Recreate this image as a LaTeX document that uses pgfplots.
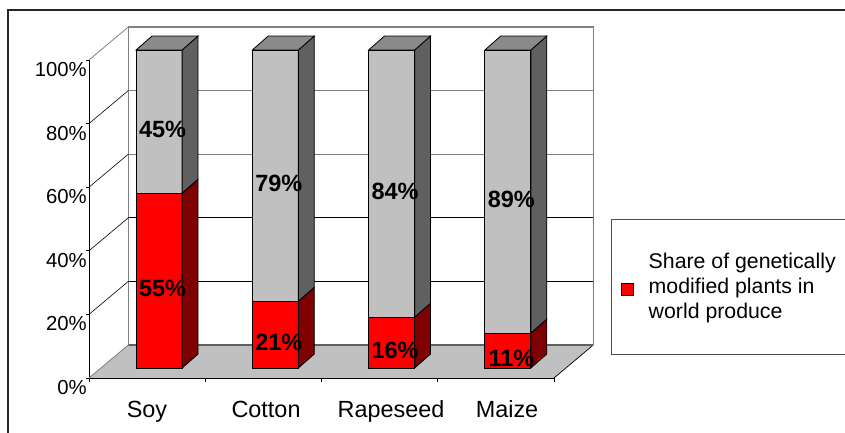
\documentclass[border=0pt]{standalone}
\usepackage{fontspec}
\setmainfont{Liberation Sans}
\usepackage{pgfplots}
\pgfplotsset{compat=1.18}
\definecolor{wall}{HTML}{808080}
\definecolor{floorc}{HTML}{C0C0C0}
\definecolor{floorb}{HTML}{606060}
\definecolor{barg}{HTML}{C0C0C0}
\definecolor{bargt}{HTML}{8A8A8A}
\definecolor{bargs}{HTML}{606060}
\definecolor{barrs}{HTML}{7F0000}
\pgfplotsset{base/.style={scale only axis,width=465pt,height=318pt,xmin=-0.5,xmax=3.5,ymin=0,ymax=100,clip=false}}
\begin{document}
\begin{tikzpicture}[x=1pt,y=1pt]
\path[use as bounding box] (0,0) rectangle (845,433);
\draw[color=black!85,line width=1.1pt] (8,-2) -- (8,423) -- (847,423);
% walls, floor and front axis
\begin{axis}[base,at={(89pt,55pt)},anchor=south west,
  axis lines=left,axis line style={-,black,line width=0.8pt},
  tick align=outside,
  ytick={0,20,40,60,80,100},
  yticklabels={0\%,20\%,40\%,60\%,80\%,100\%},
  xtick={-0.001,1.023,2.098,3.096},
  xticklabels={Soy,Cotton,Rapeseed,Maize},
  minor xtick={-0.5,0.5,1.5,2.5,3.5},
  major tick length=3pt,
  minor tick length=4pt,
  major x tick style={draw=none},
  minor x tick style={black,line width=0.6pt},
  major y tick style={black,line width=0.6pt},
  yticklabel style={font=\fontsize{20.3}{24}\selectfont,yshift=-9.5pt,xshift=2pt,inner sep=1pt},
  xticklabel style={font=\fontsize{23.4}{27}\selectfont,yshift=-16pt,text height=17pt,text depth=5pt},
]
\addplot[fill=floorc,draw=none] coordinates {(-0.5,0)(3.5,0)(3.838,10.38)(-0.162,10.38)} -- cycle;
\addplot[black,line width=0.7pt] coordinates {(3.5,0)(3.838,10.38)};
\addplot[floorb,line width=1.3pt] coordinates {(-0.162,10.38)(3.838,10.38)};
\addplot[wall,line width=1.3pt] coordinates {(-0.162,10.38)(-0.162,110.38)(3.838,110.38)(3.838,10.38)};
\addplot[wall,line width=1pt] coordinates {(-0.162,90.38)(3.838,90.38)};
\addplot[wall,line width=1pt] coordinates {(-0.162,70.38)(3.838,70.38)};
\addplot[black,line width=0.6pt] coordinates {(-0.162,50.38)(3.838,50.38)};
\addplot[black,line width=0.6pt] coordinates {(-0.162,30.38)(3.838,30.38)};
\addplot[wall,line width=0.8pt] coordinates {(-0.5,100)(-0.162,110.38)};
\addplot[black,line width=0.6pt] coordinates {(-0.5,80)(-0.162,90.38)};
\addplot[black,line width=0.6pt] coordinates {(-0.5,60)(-0.162,70.38)};
\addplot[black,line width=0.6pt] coordinates {(-0.5,40)(-0.162,50.38)};
\addplot[black,line width=0.6pt] coordinates {(-0.5,20)(-0.162,30.38)};
\addplot[wall,line width=0.8pt] coordinates {(-0.5,0)(-0.162,10.38)};
\end{axis}
% front faces of the stacked bars
\begin{axis}[base,at={(101pt,65pt)},anchor=south west,hide axis,
  ybar stacked,bar width=46pt,
]
\addplot[fill=red,draw=black,line width=0.8pt] coordinates {(0,55)(1,21)(2,16)(3,11)};
\addplot[fill=barg,draw=black,line width=0.8pt] coordinates {(0,45)(1,79)(2,84)(3,89)};
\end{axis}
% side and top faces, value labels, legend
\begin{axis}[base,at={(101pt,65pt)},anchor=south west,hide axis,
  legend cell align=left,
  legend style={at={(1.0961,0.4695)},anchor=north west,draw=black!70,line width=0.7pt,
    inner xsep=10pt,inner ysep=32pt,
    font=\fontsize{21.3}{25}\selectfont,
    /tikz/column 1/.style={column sep=13pt}},
]
\addplot[fill=barrs,draw=black,line width=0.8pt,forget plot] coordinates {(0.198,0)(0.335,4.4)(0.335,59.4)(0.198,55)} -- cycle;
\addplot[fill=barrs,draw=black,line width=0.8pt,forget plot] coordinates {(1.198,0)(1.335,4.4)(1.335,25.4)(1.198,21)} -- cycle;
\addplot[fill=barrs,draw=black,line width=0.8pt,forget plot] coordinates {(2.198,0)(2.335,4.4)(2.335,20.4)(2.198,16)} -- cycle;
\addplot[fill=barrs,draw=black,line width=0.8pt,forget plot] coordinates {(3.198,0)(3.335,4.4)(3.335,15.4)(3.198,11)} -- cycle;
\addplot[fill=bargs,draw=black,line width=0.8pt,forget plot] coordinates {(0.198,55)(0.335,59.4)(0.335,104.4)(0.198,100)} -- cycle;
\addplot[fill=bargs,draw=black,line width=0.8pt,forget plot] coordinates {(1.198,21)(1.335,25.4)(1.335,104.4)(1.198,100)} -- cycle;
\addplot[fill=bargs,draw=black,line width=0.8pt,forget plot] coordinates {(2.198,16)(2.335,20.4)(2.335,104.4)(2.198,100)} -- cycle;
\addplot[fill=bargs,draw=black,line width=0.8pt,forget plot] coordinates {(3.198,11)(3.335,15.4)(3.335,104.4)(3.198,100)} -- cycle;
\addplot[fill=bargt,draw=black,line width=0.8pt,forget plot] coordinates {(-0.198,100)(0.198,100)(0.335,104.4)(-0.061,104.4)} -- cycle;
\addplot[fill=bargt,draw=black,line width=0.8pt,forget plot] coordinates {(0.802,100)(1.198,100)(1.335,104.4)(0.939,104.4)} -- cycle;
\addplot[fill=bargt,draw=black,line width=0.8pt,forget plot] coordinates {(1.802,100)(2.198,100)(2.335,104.4)(1.939,104.4)} -- cycle;
\addplot[fill=bargt,draw=black,line width=0.8pt,forget plot] coordinates {(2.802,100)(3.198,100)(3.335,104.4)(2.939,104.4)} -- cycle;
\addplot[only marks,mark=none,forget plot,point meta=explicit symbolic,nodes near coords,
  nodes near coords style={anchor=center,font=\fontsize{23.5}{27}\selectfont\bfseries,inner sep=0pt,xshift=3.5pt,yshift=-8pt}]
  coordinates {(0,27.5)[55\%] (1,10.5)[21\%] (2,8)[16\%] (3,5.5)[11\%]
               (0,77.5)[45\%] (1,60.5)[79\%] (2,58)[84\%] (3,55.5)[89\%]};
\addlegendimage{legend image code/.code={\draw[fill=red,draw=black,line width=0.7pt] (0pt,-9pt) rectangle (12pt,3pt);}}
\addlegendentry{\parbox[b]{187pt}{\raggedright Share of genetically\\modified plants in\\world produce}}
\end{axis}
\end{tikzpicture}
\end{document}
